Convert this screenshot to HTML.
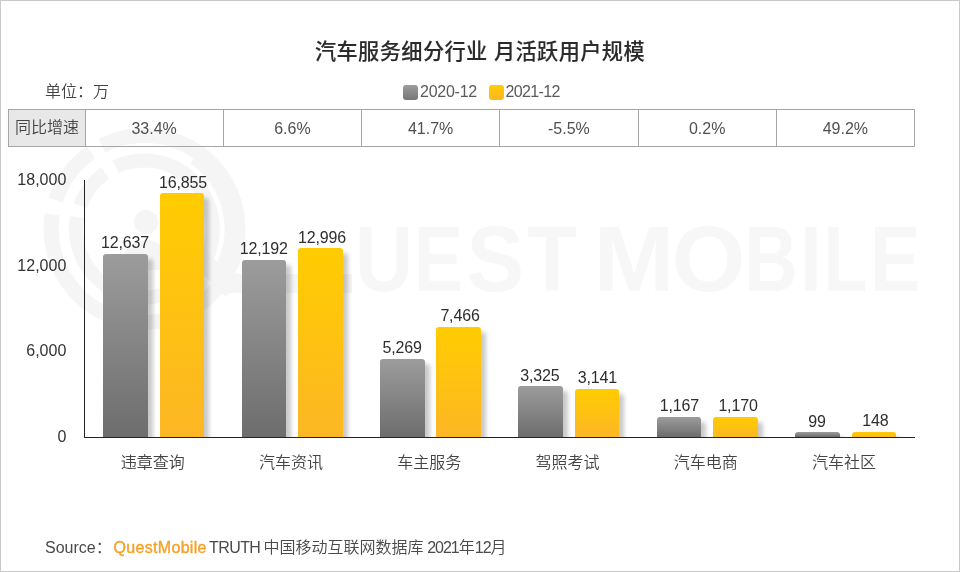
<!DOCTYPE html>
<html lang="zh"><head><meta charset="utf-8"><title>汽车服务细分行业 月活跃用户规模</title>
<style>
html,body{margin:0;padding:0;background:#fff;}
body{width:960px;height:572px;position:relative;overflow:hidden;font-family:"Liberation Sans","Noto Sans CJK SC",sans-serif;color:#333;}
#frame{position:absolute;left:0;top:0;width:958px;height:570px;border:1px solid #c9c9c9;z-index:50;pointer-events:none}
.abs{position:absolute;white-space:nowrap}
#title{left:0;width:960px;top:36.3px;text-align:center;font-size:21.2px;font-weight:500;-webkit-text-stroke:0.1px #333;color:#333;line-height:32px;letter-spacing:0.4px;color:#2b2b2b}
#unit{left:45px;top:80px;font-size:16px;line-height:24px;color:#444;font-weight:350}
.lg{position:absolute;top:80px;font-size:16px;line-height:24px;color:#5a5a5a;white-space:nowrap}
.sw{position:absolute;top:85px;width:15px;height:15px;border-radius:3px}
#tbl{position:absolute;left:8px;top:109px;width:907px;height:38px;border:1px solid #a6a6a6;box-sizing:border-box}
#th{position:absolute;left:9px;top:110px;width:76px;height:36px;background:#e8e8e8;text-align:center;font-size:16px;line-height:36px;color:#444;font-weight:350}
.vl{position:absolute;top:110px;width:1px;height:36px;background:#a6a6a6}
.cell{position:absolute;top:110px;height:36px;line-height:38px;text-align:center;font-size:16px;color:#505050}
.yl{position:absolute;left:0;width:66.3px;text-align:right;font-size:16px;line-height:20px;color:#333}
#yaxis{position:absolute;left:84px;top:180px;width:1px;height:258px;background:#222}
#xaxis{position:absolute;left:84px;top:437px;width:831px;height:1px;background:#222}
.bar{position:absolute;width:44.7px;border-radius:3px 3px 0 0;box-shadow:4.5px 5px 4px rgba(0,0,0,.21)}
#bars{position:absolute;left:0;top:0;width:960px;height:437.5px;overflow:hidden}
.bar.g{background:linear-gradient(#9c9c9c,#6d6d6d)}
.bar.y{background:linear-gradient(#ffcc00,#fdb725)}
.dl{position:absolute;width:80px;text-align:center;font-size:16px;line-height:20px;color:#2e2e2e;letter-spacing:-0.15px;text-indent:-0.15px}
.cat{position:absolute;top:451px;margin-left:-1px;width:138.4px;text-align:center;font-size:16px;line-height:24px;color:#444;font-weight:350}
#src{left:45px;top:536px;font-size:16px;line-height:24px;color:#4a4a4a;font-weight:350}
#src b{font-weight:400;color:#f6a024;-webkit-text-stroke:0.35px #f6a024;font-size:16px;letter-spacing:0.32px;margin-left:1.8px}
#src .tr{letter-spacing:-0.6px;margin-left:-1.3px}
#src .cn{margin-left:-1.3px;margin-right:-0.8px}
#src .nm{letter-spacing:-1.0px}
#wm{position:absolute;left:0;top:0}
</style></head><body>
<svg id="wm" width="960" height="572" viewBox="0 0 960 572">
<g fill="none" stroke="#f5f5f5">
<path d="M55.6 200.1A93.5 93.5 0 0 1 90.9 152.4" stroke-width="15"/>
<path d="M102.1 145.7A93.5 93.5 0 1 1 52.2 214.4" stroke-width="15"/>
<path d="M80.1 205.6A68.5 68.5 0 0 1 105.2 172.9" stroke-width="14"/>
<path d="M115.6 166.9A68.5 68.5 0 1 1 77.0 217.1" stroke-width="14"/>
<path d="M192.7 160.2A84 84 0 0 1 218.7 268.4" stroke-width="8"/>
<path d="M200 258L232 290" stroke-width="19"/>
<path d="M222 283.5L352 283.5" stroke-width="19"/>
</g>
<g fill="#f5f5f5"><circle cx="146" cy="222" r="12"/><path d="M120 270a26 30 0 0 1 52 0z"/></g>
<text y="290.8" font-family="Liberation Sans, sans-serif" font-size="92" font-weight="700" fill="#f7f7f7"><tspan x="354.9" textLength="58.0" lengthAdjust="spacingAndGlyphs">U</tspan><tspan x="413.9" textLength="48.8" lengthAdjust="spacingAndGlyphs">E</tspan><tspan x="466.6" textLength="57.5" lengthAdjust="spacingAndGlyphs">S</tspan><tspan x="527.3" textLength="49.6" lengthAdjust="spacingAndGlyphs">T</tspan><tspan x="582"> </tspan><tspan x="593.7" textLength="80.6" lengthAdjust="spacingAndGlyphs">M</tspan><tspan x="671.8" textLength="73.5" lengthAdjust="spacingAndGlyphs">O</tspan><tspan x="744.4" textLength="53.3" lengthAdjust="spacingAndGlyphs">B</tspan><tspan x="800.6" textLength="20.9" lengthAdjust="spacingAndGlyphs">I</tspan><tspan x="823.4" textLength="43.6" lengthAdjust="spacingAndGlyphs">L</tspan><tspan x="870.0" textLength="50.2" lengthAdjust="spacingAndGlyphs">E</tspan></text>
</svg>
<div id="title" class="abs">汽车服务细分行业 月活跃用户规模</div>
<div id="unit" class="abs">单位：万</div>
<div class="sw" style="left:403px;background:linear-gradient(#9c9c9c,#777)"></div><div class="lg" style="left:420px;letter-spacing:-0.25px">2020-12</div>
<div class="sw" style="left:489px;background:linear-gradient(#ffcc00,#fdb725)"></div><div class="lg" style="left:505.5px;letter-spacing:-0.65px">2021-12</div>
<div id="tbl"></div><div id="th">同比增速</div><div class="vl" style="left:85px"></div><div class="vl" style="left:223px"></div><div class="vl" style="left:361px"></div><div class="vl" style="left:499px"></div><div class="vl" style="left:638px"></div><div class="vl" style="left:776px"></div><div class="cell" style="left:85.00px;width:138.25px">33.4%</div><div class="cell" style="left:223.25px;width:138.25px">6.6%</div><div class="cell" style="left:361.50px;width:138.25px">41.7%</div><div class="cell" style="left:499.75px;width:138.25px">-5.5%</div><div class="cell" style="left:638.00px;width:138.25px">0.2%</div><div class="cell" style="left:776.25px;width:138.25px">49.2%</div>
<div class="yl" style="top:169.7px">18,000</div><div class="yl" style="top:255.5px">12,000</div><div class="yl" style="top:340.7px">6,000</div><div class="yl" style="top:427px">0</div>
<div id="bars"><div class="bar g" style="left:103.1px;top:254.0px;height:183.0px"></div><div class="bar y" style="left:159.5px;top:193.0px;height:244.0px"></div><div class="bar g" style="left:241.5px;top:260.0px;height:177.0px"></div><div class="bar y" style="left:297.9px;top:248.0px;height:189.0px"></div><div class="bar g" style="left:379.9px;top:359.0px;height:78.0px"></div><div class="bar y" style="left:436.3px;top:327.0px;height:110.0px"></div><div class="bar g" style="left:518.3px;top:386.0px;height:51.0px"></div><div class="bar y" style="left:574.7px;top:389.0px;height:48.0px"></div><div class="bar g" style="left:656.7px;top:417.0px;height:20.0px"></div><div class="bar y" style="left:713.1px;top:417.3px;height:19.7px"></div><div class="bar g" style="left:795.1px;top:432.0px;height:5.0px"></div><div class="bar y" style="left:851.5px;top:431.7px;height:5.3px"></div></div>
<div id="yaxis"></div><div id="xaxis"></div>
<div class="dl" style="left:85.0px;top:233.0px">12,637</div><div class="dl" style="left:143.0px;top:173.0px">16,855</div><div class="dl" style="left:223.9px;top:239.2px">12,192</div><div class="dl" style="left:282.1px;top:228.4px">12,996</div><div class="dl" style="left:362.2px;top:338.2px">5,269</div><div class="dl" style="left:420.1px;top:306.1px">7,466</div><div class="dl" style="left:499.9px;top:366.1px">3,325</div><div class="dl" style="left:557.4px;top:368.4px">3,141</div><div class="dl" style="left:639.5px;top:396.4px">1,167</div><div class="dl" style="left:698.1px;top:396.4px">1,170</div><div class="dl" style="left:777.0px;top:411.8px">99</div><div class="dl" style="left:835.4px;top:411.1px">148</div>
<div class="cat" style="left:84.5px">违章查询</div><div class="cat" style="left:222.8px">汽车资讯</div><div class="cat" style="left:361.0px">车主服务</div><div class="cat" style="left:499.2px">驾照考试</div><div class="cat" style="left:637.5px">汽车电商</div><div class="cat" style="left:775.8px">汽车社区</div>
<div id="src" class="abs">Source：<b>QuestMobile</b><span class="tr"> TRUTH</span><span class="cn"> 中国移动互联网数据库</span> <span class="nm">2021</span>年<span class="nm">12</span>月</div>
<div id="frame"></div>
</body></html>
